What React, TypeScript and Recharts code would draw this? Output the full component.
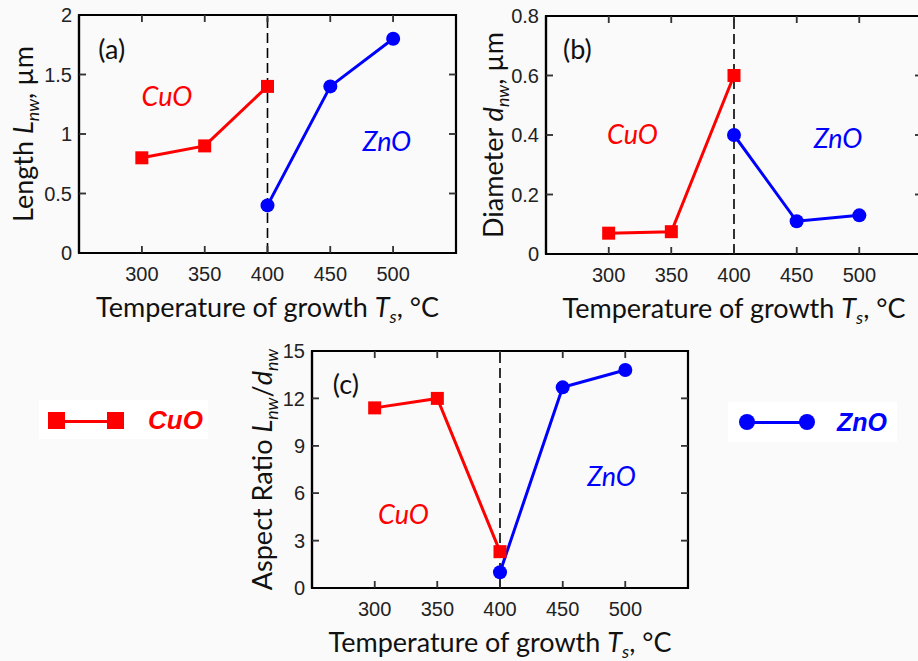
import React from 'react';
import { LineChart, Line, XAxis, YAxis, ReferenceLine, ReferenceDot, ReferenceArea, Label } from 'recharts';

// ---------- data ----------
const xTicks = [300, 350, 400, 450, 500];
const xDomain = [250, 550];
const cuoTemps = [300, 350, 400];
const znoTemps = [400, 450, 500];

const cuoLength = [0.8, 0.9, 1.4];
const znoLength = [0.4, 1.4, 1.8];
const lengthTicks = [0, 0.5, 1, 1.5, 2];

const cuoDiameter = [0.07, 0.075, 0.6];
const znoDiameter = [0.4, 0.11, 0.13];
const diameterTicks = [0, 0.2, 0.4, 0.6, 0.8];

const cuoAspect = [11.4, 12.0, 2.3];
const znoAspect = [1.0, 12.7, 13.8];
const aspectTicks = [0, 3, 6, 9, 12, 15];

const RED = '#ff0000';
const BLUE = '#0000ff';
const BG = '#fafafa';
const LABEL_FONT = 'Lato, "Open Sans", sans-serif';
const TICK_FONT = '"Liberation Sans", Arial, sans-serif';
const TICK_LEN = 7;
const TICK_FS = 20;

const toPoints = (xs: number[], ys: number[]) => xs.map((t, i) => ({ t, v: ys[i] }));
const squareDot = (p: any) => (<rect key={`s${p.index}`} x={p.cx - 6.5} y={p.cy - 6.5} width={13} height={13} fill={RED} />);
const circleDot = (p: any) => (<circle key={`c${p.index}`} cx={p.cx} cy={p.cy} r={7} fill={BLUE} />);

type Part = { text: string; italic?: boolean; sub?: boolean };
function renderParts(parts: Part[], fontSize: number) {
  let shifted = false;
  const out: any[] = [];
  parts.forEach((p, i) => {
    let dy = 0;
    if (p.sub && !shifted) { dy = fontSize * 0.22; shifted = true; }
    else if (!p.sub && shifted) { dy = -fontSize * 0.22; shifted = false; }
    out.push(<tspan key={i} dy={dy} fontStyle={p.italic ? 'italic' : 'normal'} fontSize={p.sub ? fontSize * 0.66 : fontSize}>{p.text}</tspan>);
  });
  return out;
}
const xLabelParts: Part[] = [{ text: 'Temperature of growth ' }, { text: 'T', italic: true }, { text: 's', italic: true, sub: true }, { text: ', °C' }];
type Annot = { x: number; y: number; text: string; color: string; italic: boolean };

function Panel(props: any) {
  const { left, top, width, height, plotLeft, plotTop, plotRight, plotBottom, cuo, zno, yTicks, yLabel, yLabelX, yLabelSize, annots } = props;
  const yMin = yTicks[0];
  const yMax = yTicks[yTicks.length - 1];
  const plotW = plotRight - plotLeft;
  const plotH = plotBottom - plotTop;
  const dxTick = ((xDomain[1] - xDomain[0]) * TICK_LEN) / plotW;
  const dyTick = ((yMax - yMin) * TICK_LEN) / plotH;
  const innerY = yTicks.filter((v: number) => v !== yMin && v !== yMax);

  const renderXTick = (tp: any) => {
    const bottom = tp.y - 14;
    const topEdge = bottom - plotH;
    return (
      <g key={`xt${tp.index}`}>
        <line x1={tp.x} x2={tp.x} y1={bottom} y2={bottom - TICK_LEN} stroke="#333" strokeWidth={1.5} />
        <line x1={tp.x} x2={tp.x} y1={topEdge} y2={topEdge + TICK_LEN} stroke="#333" strokeWidth={1.5} />
        <line x1={tp.x - 6} x2={tp.x + 6} y1={bottom + 5} y2={bottom + 5} stroke={BG} strokeWidth={3} />
        <text x={tp.x} y={tp.y} dy={TICK_FS * 0.71} textAnchor="middle" fontFamily={TICK_FONT} fontSize={TICK_FS} fill="#222">{tp.payload.value}</text>
      </g>
    );
  };
  const renderYTick = (tp: any) => {
    const v = tp.payload.value;
    const leftEdge = tp.x + 7;
    const rightEdge = leftEdge + plotW;
    const inner = v !== yMin && v !== yMax;
    return (
      <g key={`yt${tp.index}`}>
        {inner && <line x1={leftEdge} x2={leftEdge + TICK_LEN} y1={tp.y} y2={tp.y} stroke="#333" strokeWidth={1.5} />}
        {inner && <line x1={rightEdge} x2={rightEdge - TICK_LEN} y1={tp.y} y2={tp.y} stroke="#333" strokeWidth={1.5} />}
        <text x={tp.x} y={tp.y} dy={TICK_FS * 0.355} textAnchor="end" fontFamily={TICK_FONT} fontSize={TICK_FS} fill="#222">{String(v)}</text>
      </g>
    );
  };
  return (
    <div style={{ position: 'absolute', left, top, width, height }}>
      <LineChart width={width} height={height} margin={{ top: plotTop, right: width - plotRight, left: 0, bottom: 0 }}>
        <XAxis xAxisId="b" dataKey="t" type="number" domain={xDomain} ticks={xTicks} height={height - plotBottom} tickSize={-7} tickMargin={21}
          tick={renderXTick} stroke="#000" strokeWidth={2.2} tickLine={false} interval={0}>
          <Label content={(lp: any) => { const vb = lp.viewBox; return (
            <text x={vb.x + vb.width / 2} y={vb.y + 64} textAnchor="middle" fontFamily={LABEL_FONT} fontSize={27} fill="#111">{renderParts(xLabelParts, 27)}</text>); }} />
        </XAxis>
        <YAxis yAxisId="l" type="number" domain={[yMin, yMax]} ticks={yTicks} width={plotLeft} tickSize={-7} tickMargin={14} tick={renderYTick}
          stroke="#000" strokeWidth={2.2} tickLine={false} interval={0}>
          <Label content={(lp: any) => { const vb = lp.viewBox; const cy = vb.y + vb.height / 2; return (
            <text x={yLabelX} y={cy} transform={`rotate(-90, ${yLabelX}, ${cy})`} textAnchor="middle" fontFamily={LABEL_FONT} fontSize={yLabelSize} fill="#111">{renderParts(yLabel, yLabelSize)}</text>); }} />
        </YAxis>

        {/* inward ticks (second drawing, through the chart scales) */}
        {xTicks.map((t) => (
          <ReferenceLine key={`xb${t}`} xAxisId="b" yAxisId="l" ifOverflow="visible" stroke="#333" strokeWidth={1.5}
            segment={[{ x: t, y: yMin }, { x: t, y: yMin + dyTick }]} />
        ))}
        {xTicks.map((t) => (
          <ReferenceLine key={`xt${t}`} xAxisId="b" yAxisId="l" ifOverflow="visible" stroke="#333" strokeWidth={1.5}
            segment={[{ x: t, y: yMax }, { x: t, y: yMax - dyTick }]} />
        ))}
        {innerY.map((v: number) => (
          <ReferenceLine key={`yl${v}`} xAxisId="b" yAxisId="l" ifOverflow="visible" stroke="#333" strokeWidth={1.5}
            segment={[{ x: xDomain[0], y: v }, { x: xDomain[0] + dxTick, y: v }]} />
        ))}
        {innerY.map((v: number) => (
          <ReferenceLine key={`yr${v}`} xAxisId="b" yAxisId="l" ifOverflow="visible" stroke="#333" strokeWidth={1.5}
            segment={[{ x: xDomain[1], y: v }, { x: xDomain[1] - dxTick, y: v }]} />
        ))}

        <ReferenceLine xAxisId="b" yAxisId="l" x={400} stroke="#000" strokeWidth={1.6} strokeDasharray="10 5" />
        {annots.map((a: Annot, i: number) => (
          <ReferenceDot key={i} xAxisId="b" yAxisId="l" x={a.x} y={a.y} r={0} fill="none" stroke="none"
            label={{ content: (lp: any) => { const vb = lp.viewBox; return (
              <text x={vb.x} y={vb.y + 9} textAnchor="middle" fontFamily={LABEL_FONT} fontSize={27} fontStyle={a.italic ? 'italic' : 'normal'} fill={a.color}>{a.text}</text>); } }} />
        ))}
        <Line xAxisId="b" yAxisId="l" data={toPoints(cuoTemps, cuo)} dataKey="v" stroke={RED} strokeWidth={3} dot={squareDot} activeDot={false} isAnimationActive={false} />
        <Line xAxisId="b" yAxisId="l" data={toPoints(znoTemps, zno)} dataKey="v" stroke={BLUE} strokeWidth={3} dot={circleDot} activeDot={false} isAnimationActive={false} />
        <ReferenceArea xAxisId="b" yAxisId="l" x1={xDomain[0]} x2={xDomain[1]} y1={yMin} y2={yMax}
          ifOverflow="visible" fill="none" fillOpacity={0} stroke="#000" strokeWidth={2.2} strokeOpacity={1} />
      </LineChart>
    </div>
  );
}

const box = (l: number, t: number, w: number, h: number, bg: string, extra: any = {}) => (
  <div style={{ position: 'absolute', left: l, top: t, width: w, height: h, background: bg, ...extra }} />
);

export default function App() {
  return (
    <div style={{ position: 'fixed', left: 0, top: 0, width: 918, height: 661, overflow: 'hidden', background: BG }}>
      <Panel left={0} top={0} width={460} height={330} plotLeft={79} plotTop={15} plotRight={456} plotBottom={253}
        cuo={cuoLength} zno={znoLength} yTicks={lengthTicks}
        yLabel={[{ text: 'Length ' }, { text: 'L', italic: true }, { text: 'nw', italic: true, sub: true }, { text: ', µm' }]} yLabelX={33} yLabelSize={27}
        annots={[{ x: 276, y: 1.71, text: '(a)', color: '#111', italic: false }, { x: 320, y: 1.31, text: 'CuO', color: RED, italic: true }, { x: 495, y: 0.93, text: 'ZnO', color: BLUE, italic: true }]} />
      <Panel left={460} top={0} width={470} height={330} plotLeft={86} plotTop={16} plotRight={462} plotBottom={254}
        cuo={cuoDiameter} zno={znoDiameter} yTicks={diameterTicks}
        yLabel={[{ text: 'Diameter ' }, { text: 'd', italic: true }, { text: 'nw', italic: true, sub: true }, { text: ', µm' }]} yLabelX={43} yLabelSize={27}
        annots={[{ x: 275, y: 0.686, text: '(b)', color: '#111', italic: false }, { x: 319, y: 0.40, text: 'CuO', color: RED, italic: true }, { x: 483, y: 0.387, text: 'ZnO', color: BLUE, italic: true }]} />
      <Panel left={230} top={330} width={460} height={331} plotLeft={82} plotTop={21} plotRight={458} plotBottom={258}
        cuo={cuoAspect} zno={znoAspect} yTicks={aspectTicks}
        yLabel={[{ text: 'Aspect Ratio ' }, { text: 'L', italic: true }, { text: 'nw', italic: true, sub: true }, { text: '/' }, { text: 'd', italic: true }, { text: 'nw', italic: true, sub: true }]} yLabelX={42} yLabelSize={27}
        annots={[{ x: 277, y: 12.85, text: '(c)', color: '#111', italic: false }, { x: 323, y: 4.6, text: 'CuO', color: RED, italic: true }, { x: 489, y: 7.0, text: 'ZnO', color: BLUE, italic: true }]} />

      {/* CuO legend */}
      {box(39, 400, 169, 39, '#fff')}
      {box(57, 419.5, 58, 3, RED)}
      {box(48, 412, 17, 17, RED)}
      {box(107, 412, 17, 17, RED)}
      <div style={{ position: 'absolute', left: 148, top: 405, fontFamily: TICK_FONT, fontSize: 26, fontWeight: 'bold', fontStyle: 'italic', color: RED, lineHeight: '30px' }}>CuO</div>

      {/* ZnO legend */}
      {box(728, 402, 169, 40, '#fff')}
      {box(747, 420.5, 60, 3, BLUE)}
      {box(739, 414, 16, 16, BLUE, { borderRadius: '50%' })}
      {box(799, 414, 16, 16, BLUE, { borderRadius: '50%' })}
      <div style={{ position: 'absolute', left: 837, top: 407, fontFamily: TICK_FONT, fontSize: 25, fontWeight: 'bold', fontStyle: 'italic', color: BLUE, lineHeight: '30px' }}>ZnO</div>
    </div>
  );
}
